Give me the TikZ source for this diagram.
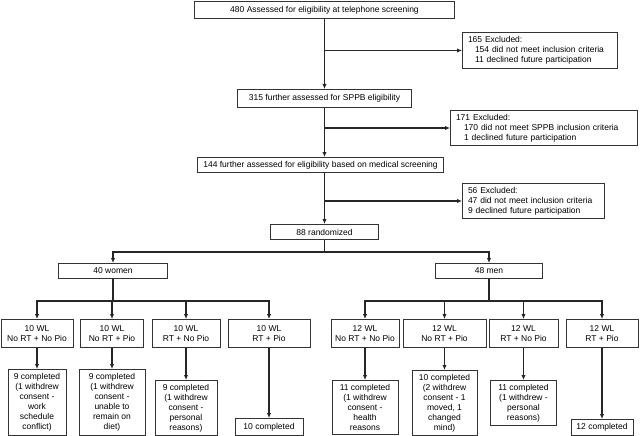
\documentclass[tikz,border=0pt]{standalone}
\usepackage{fontspec}
\setmainfont{Liberation Sans}
\usetikzlibrary{arrows.meta}
\begin{document}
\begin{tikzpicture}[x=1pt,y=-1pt,>={Latex[length=5pt,width=4.5pt]},
  box/.style={draw=black!80,line width=1pt,inner sep=0pt,align=center,anchor=north west,font=\fontsize{8.5}{10}\selectfont},
  exbox/.style={box,align=left,inner xsep=5.5pt},
  line/.style={draw=black!85,line width=1.1pt}]
\useasboundingbox (0,0) rectangle (640,436);
% screening steps
\node[box,minimum width=260pt,minimum height=17pt] (scr) at (194,1) {480 Assessed for eligibility at telephone screening};
\node[box,minimum width=174pt,minimum height=18pt] (sppb) at (237,89) {315 further assessed for SPPB eligibility};
\node[box,minimum width=246pt,minimum height=15pt] (med) at (197,157) {144 further assessed for eligibility based on medical screening};
\node[box,minimum width=108pt,minimum height=15pt] (rand) at (270,224) {88 randomized};
% exclusions
\node[exbox,text width=144pt,minimum height=36pt] (ex1) at (462,32) {165 Excluded:\\\hspace*{7pt}154 did not meet inclusion criteria\\\hspace*{7pt}11 declined future participation};
\node[exbox,text width=176pt,minimum height=35pt] (ex2) at (450,110) {171 Excluded:\\\hspace*{8pt}170 did not meet SPPB inclusion criteria\\\hspace*{8pt}1 declined future participation};
\node[exbox,text width=131pt,minimum height=35pt] (ex3) at (462,183) {56 Excluded:\\47 did not meet inclusion criteria\\9 declined future participation};
\draw[line,->] (scr.south) -- (scr.south |- sppb.north);
\draw[line,->] (sppb.south) -- (sppb.south |- med.north);
\draw[line,->] (med.south -| rand.north) -- (rand.north);
\draw[line,->] (scr.south |- ex1.west) -- (ex1.west);
\draw[line,->] (sppb.south |- ex2.west) -- (ex2.west);
\draw[line,->] (rand.north |- ex3.west) -- (ex3.west);
% sexes
\node[box,minimum width=109pt,minimum height=15pt] (women) at (58,263) {40 women};
\node[box,minimum width=107pt,minimum height=15pt] (men) at (435,263) {48 men};
\draw[line,->] (rand.south) -- ++(0,12) -| (women.north);
\draw[line,->] (rand.south) -- ++(0,12) -| (men.north);
% groups
\foreach \g/\cx/\w/\n/\t in {w1/37/72/10/No RT + No Pio, w2/112/63/10/No RT + Pio, w3/186/68/10/RT + No Pio, w4/269/82/10/RT + Pio}
{
\node[box,anchor=north,minimum width=\w pt,minimum height=28pt] (\g) at (\cx,319) {\n\ WL\\\t};
\draw[line,->] (women.south) -- ++(0,22) -| (\g.north);
}
\foreach \g/\cx/\w/\n/\t in {m1/365/68/12/No RT + No Pio, m2/444.5/83/12/No RT + Pio, m3/523.5/69/12/RT + No Pio, m4/602/72/12/RT + Pio}
{
\node[box,anchor=north,minimum width=\w pt,minimum height=28pt] (\g) at (\cx,319) {\n\ WL\\\t};
\draw[line,->] (men.south) -- ++(0,22) -| (\g.north);
}
% completed
\node[box,anchor=north,minimum width=58pt,minimum height=66pt] (cw1) at (37,369) {9 completed\\(1 withdrew\\consent -\\work\\schedule\\conflict)};
\node[box,anchor=north,minimum width=66pt,minimum height=66pt] (cw2) at (112,369) {9 completed\\(1 withdrew\\consent -\\unable to\\remain on\\diet)};
\node[box,anchor=north,minimum width=62pt,minimum height=55pt] (cw3) at (186,380) {9 completed\\(1 withdrew\\consent -\\personal\\reasons)};
\node[box,anchor=north,minimum width=68pt,minimum height=17pt] (cw4) at (269,418) {10 completed};
\node[box,anchor=north,minimum width=66pt,minimum height=54pt] (cm1) at (365,380) {11 completed\\(1 withdrew\\consent -\\health\\reasons};
\node[box,anchor=north,minimum width=65pt,minimum height=65pt] (cm2) at (444.5,370) {10 completed\\(2 withdrew\\consent - 1\\moved, 1\\changed\\mind)};
\node[box,anchor=north,minimum width=66pt,minimum height=45pt] (cm3) at (523.5,380) {11 completed\\(1 withdrew -\\personal\\reasons)};
\node[box,anchor=north,minimum width=62pt,minimum height=16pt] (cm4) at (602,419) {12 completed};
\foreach \a/\b in {w1/cw1, w2/cw2, w3/cw3, w4/cw4, m1/cm1, m2/cm2, m3/cm3, m4/cm4}
\draw[line,->] (\a.south) -- (\b.north);
\end{tikzpicture}
\end{document}
